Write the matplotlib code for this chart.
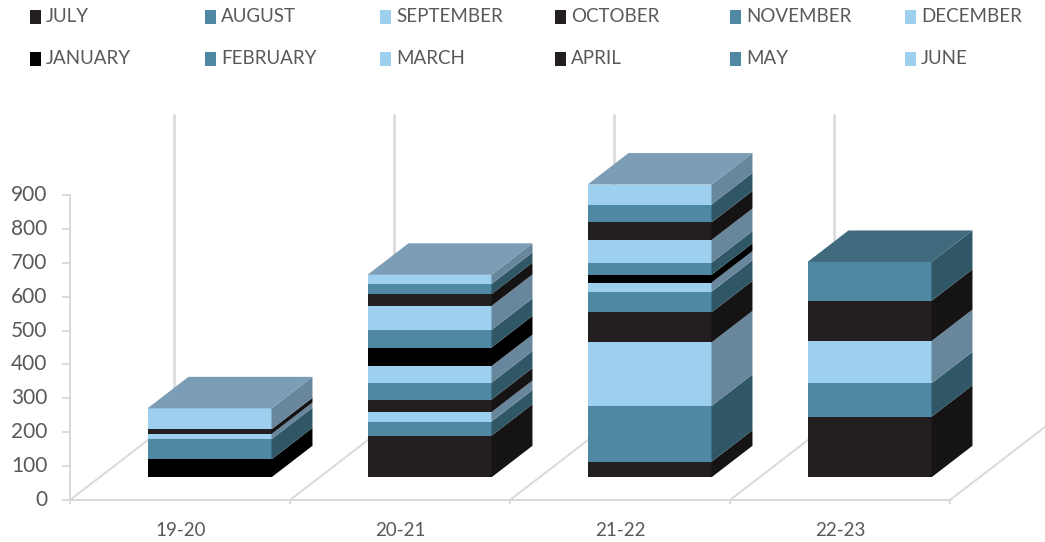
import matplotlib
matplotlib.use("Agg")
import matplotlib.pyplot as plt
from matplotlib.patches import Rectangle
import numpy as np

# ---------------- data ----------------
categories = ["19-20", "20-21", "21-22", "22-23"]
months = ["JULY", "AUGUST", "SEPTEMBER", "OCTOBER", "NOVEMBER", "DECEMBER",
          "JANUARY", "FEBRUARY", "MARCH", "APRIL", "MAY", "JUNE"]
july      = [0, 123, 46, 179]
august    = [0, 42, 165, 99]
september = [0, 28, 188, 125]
october   = [0, 37, 89, 119]
november  = [0, 50, 61, 115]
december  = [0, 49, 27, 0]
january   = [53, 55, 23, 0]
february  = [60, 52, 36, 0]
march     = [15, 71, 67, 0]
april     = [14, 35, 52, 0]
may       = [0, 30, 53, 0]
june      = [62, 27, 59, 0]
series = [july, august, september, october, november, december,
          january, february, march, april, may, june]
value_ticks = [0, 100, 200, 300, 400, 500, 600, 700, 800, 900]
value_max = 900

# ---------------- style ----------------
DARK = ("#231F20", "#161314", "#3A3536")
TEAL = ("#4F88A2", "#2F5766", "#406B7E")
LIGHT = ("#9DCFEE", "#68869C", "#7B9DB6")
BLACK = ("#000000", "#000000", "#151515")
month_styles = [DARK, TEAL, LIGHT, DARK, TEAL, LIGHT,
                BLACK, TEAL, LIGHT, DARK, TEAL, LIGHT]
GRID = "#D9D9D9"
TXT = "#595959"
FONT = "Lato"

BAR_W = 0.5636          # bar width in category units
DX_FULL = 0.4727        # x shift (category units) for full depth
DY_FULL = 236.7         # y shift (value units) for full depth
T_FLOOR = -0.279        # floor front plane, relative to bar fronts
T_BARBACK = 0.394       # bar back plane
T_WALL = 0.721          # back wall plane


def proj(c, t, v):
    return c + t * DX_FULL, v + t * DY_FULL


fig = plt.figure(figsize=(10.45, 5.42), dpi=100)
ax = fig.add_axes([0, 0, 1, 1])
ax.set_xlim(-0.9523, 3.7977)
ax.set_ylim(-191.4, 1412.1)
ax.axis("off")

n = len(categories)
xs = np.arange(n)

# ---- floor & back wall gridlines ----
bounds = np.arange(n + 1) - 0.5
lw = 1.4
fx0, fy0 = proj(bounds[0], T_FLOOR, 0)
fx1, fy1 = proj(bounds[-1], T_FLOOR, 0)
ax.plot([fx0, fx1], [fy0, fy1], color=GRID, lw=lw, zorder=1, solid_capstyle="butt")
for b in bounds:
    a = proj(b, T_FLOOR, 0)
    w = proj(b, T_WALL, 0)
    wt = proj(b, T_WALL, value_max)
    ax.plot([a[0], w[0]], [a[1], w[1]], color=GRID, lw=lw, zorder=1)
    ax.plot([w[0], wt[0]], [w[1], wt[1]], color=GRID, lw=lw * 1.3, zorder=1)
    # category tick marks below the floor front edge
    tb = proj(b, T_FLOOR, 0)
    ax.plot([tb[0], tb[0]], [tb[1], tb[1] - 10], color=GRID, lw=lw, zorder=1)

# ---- value axis ----
ax0 = proj(bounds[0], T_FLOOR, 0)
ax1 = proj(bounds[0], T_FLOOR, value_max)
ax.plot([ax0[0], ax1[0]], [ax0[1], ax1[1]], color=GRID, lw=lw, zorder=1)
for v in value_ticks:
    p = proj(bounds[0], T_FLOOR, v)
    ax.plot([p[0] - 0.032, p[0]], [p[1], p[1]], color=GRID, lw=lw, zorder=1)
    ax.text(p[0] - 0.105, p[1], str(v), ha="right", va="center",
            fontsize=15, color=TXT, family=FONT)

# ---- category labels ----
for i, cat in enumerate(categories):
    p = proj(i, T_FLOOR, 0)
    ax.text(p[0], p[1] - 90, cat, ha="center", va="center",
            fontsize=13.5, color=TXT, family=FONT)

# ---- stacked 3D bars ----
bottom = np.zeros(n)
top_style = [None] * n
for vals, st in zip(series, month_styles):
    vals = np.asarray(vals, dtype=float)
    front, side, top = st
    ax.bar(xs, vals, width=BAR_W, bottom=bottom, color=front,
           linewidth=0, zorder=3)
    for i in range(n):
        if vals[i] <= 0:
            continue
        xr = xs[i] + BAR_W / 2
        b0, b1 = bottom[i], bottom[i] + vals[i]
        p1 = proj(xr, 0, b0)
        p2 = proj(xr, T_BARBACK, b0)
        p3 = proj(xr, T_BARBACK, b1)
        p4 = proj(xr, 0, b1)
        ax.fill([p1[0], p2[0], p3[0], p4[0]], [p1[1], p2[1], p3[1], p4[1]],
                color=side, lw=0, zorder=3)
        top_style[i] = top
    bottom = bottom + vals

for i in range(n):
    xl, xr = xs[i] - BAR_W / 2, xs[i] + BAR_W / 2
    h = bottom[i]
    q1 = proj(xl, 0, h)
    q2 = proj(xr, 0, h)
    q3 = proj(xr, T_BARBACK, h)
    q4 = proj(xl, T_BARBACK, h)
    ax.fill([q1[0], q2[0], q3[0], q4[0]], [q1[1], q2[1], q3[1], q4[1]],
            color=top_style[i], lw=0, zorder=4)

# ---- legend (two rows, six columns, row-wise order) ----
W, H = 1045.0, 542.0
col_x = [30, 205, 380, 555, 730, 905]
row_y = [17, 59]
for k, (name, st) in enumerate(zip(months, month_styles)):
    r, c = divmod(k, 6)
    x0 = col_x[c] / W
    yc = 1 - row_y[r] / H
    fig.patches.append(Rectangle((x0, yc - 7 / H), 11 / W, 14 / H,
                                 transform=fig.transFigure,
                                 facecolor=st[0], edgecolor="none"))
    fig.text(x0 + 16 / W, yc, name, ha="left", va="center",
             fontsize=13.5, color=TXT, family=FONT)

fig.savefig("out.png", dpi=100, facecolor="white")
